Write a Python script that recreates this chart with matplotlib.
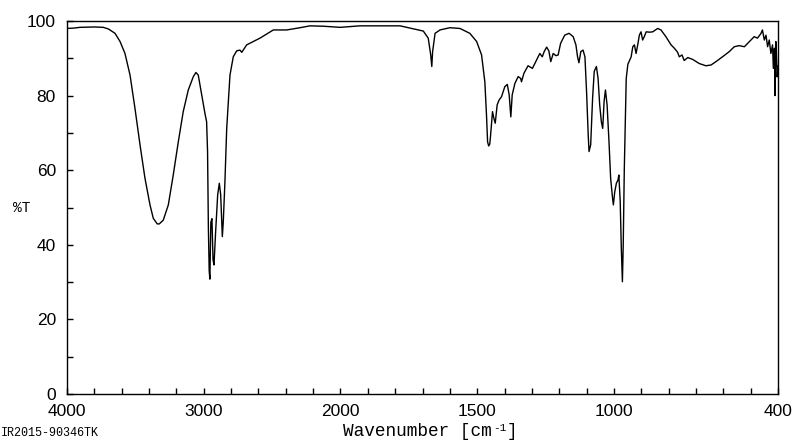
import numpy as np
import matplotlib
matplotlib.use("Agg")
import matplotlib.pyplot as plt
from matplotlib.ticker import FixedLocator, NullFormatter

# ---- data ----
wavenumber = [
    4000, 3950, 3905, 3800, 3735, 3700, 3686, 3649, 3612, 3576, 3539, 3503, 3466, 3430,
    3393, 3369, 3340, 3325, 3296, 3259, 3223, 3186, 3150, 3113, 3076, 3057, 3040, 3015,
    2991, 2979, 2972, 2966, 2960, 2955, 2948, 2940, 2932, 2925, 2913, 2898, 2886, 2876,
    2864, 2857, 2845, 2832, 2808, 2784, 2759, 2735, 2722, 2686, 2589, 2491, 2393, 2296,
    2223, 2126, 2002, 1929, 1782, 1740, 1697, 1679, 1670, 1666, 1663, 1654, 1636, 1600,
    1563, 1527, 1502, 1484, 1472, 1466, 1462, 1458, 1454, 1451, 1444, 1439, 1434, 1427,
    1420, 1411, 1399, 1390, 1383, 1377, 1372, 1362, 1350, 1341, 1338, 1329, 1314, 1298,
    1283, 1271, 1262, 1255, 1246, 1238, 1231, 1222, 1212, 1204, 1195, 1180, 1164, 1149,
    1139, 1133, 1128, 1121, 1113, 1106, 1100, 1094, 1091, 1085, 1078, 1072, 1064, 1058,
    1052, 1046, 1041, 1036, 1031, 1025, 1018, 1012, 1005, 1002, 997, 991, 985, 982,
    977, 973, 969, 966, 962, 958, 955, 949, 937, 931, 925, 919, 913, 907,
    901, 895, 889, 882, 870, 858, 840, 828, 810, 791, 779, 767, 761, 751,
    743, 730, 712, 688, 664, 645, 627, 603, 578, 560, 542, 523, 511, 499,
    487, 475, 462, 457, 450, 444, 438, 432, 426, 420, 417, 413, 411, 408,
    406, 403, 400,
]
transmittance = [
    98.0, 98.1, 98.3, 98.4, 98.3, 97.9, 97.6, 96.7, 94.5, 91.3, 85.5, 76.6, 66.8, 57.9,
    50.7, 47.1, 45.6, 45.6, 46.6, 50.7, 58.7, 67.6, 75.7, 81.5, 85.1, 86.2, 85.5, 80.2,
    75.2, 73.0, 65.0, 44.5, 33.0, 30.8, 46.0, 47.0, 36.0, 34.6, 43.5, 53.4, 56.5, 53.4,
    42.2, 46.2, 56.9, 71.2, 85.5, 90.4, 92.0, 92.2, 91.6, 93.6, 95.4, 97.6, 97.6, 98.2,
    98.7, 98.6, 98.3, 98.7, 98.7, 98.0, 97.3, 95.4, 90.9, 87.8, 91.8, 96.7, 97.6, 98.2,
    98.0, 96.7, 94.5, 90.9, 83.7, 74.8, 67.6, 66.5, 67.0, 69.4, 75.7, 73.9, 72.6, 77.5,
    78.8, 79.7, 82.4, 83.0, 80.2, 74.3, 80.2, 83.3, 85.1, 84.6, 83.7, 86.0, 88.0, 87.3,
    89.5, 91.3, 90.4, 91.8, 93.0, 92.0, 89.1, 91.3, 90.7, 90.9, 94.0, 96.2, 96.7, 95.8,
    93.6, 90.4, 88.8, 91.8, 92.2, 90.4, 81.0, 69.4, 65.0, 66.8, 79.3, 86.5, 87.8, 84.6,
    77.5, 73.0, 71.2, 78.4, 81.5, 77.5, 67.6, 57.8, 52.5, 50.7, 54.2, 56.5, 57.4, 58.7,
    51.6, 39.1, 30.1, 39.9, 60.5, 74.8, 84.6, 88.4, 90.4, 93.1, 93.6, 91.3, 93.6, 96.2,
    97.1, 94.9, 95.8, 97.1, 97.0, 97.1, 98.0, 97.6, 95.8, 93.6, 92.7, 91.6, 90.4, 90.9,
    89.4, 90.2, 89.7, 88.6, 88.0, 88.2, 89.1, 90.4, 91.8, 93.1, 93.4, 93.1, 94.0, 94.9,
    95.8, 95.4, 96.7, 97.6, 94.9, 96.2, 93.1, 94.9, 91.3, 93.6, 87.3, 92.7, 80.0, 94.5,
    91.8, 85.0, 88.0,
]
x_major_ticks = [4000, 3000, 2000, 1500, 1000, 400]
x_major_labels = ["4000", "3000", "2000", "1500", "1000", "400"]
x_minor_ticks = [3800, 3600, 3400, 3200, 2800, 2600, 2400, 2200,
                 1900, 1800, 1700, 1600, 1400, 1300, 1200, 1100,
                 900, 800, 700, 600, 500]
y_major_ticks = [0, 20, 40, 60, 80, 100]
y_minor_ticks = [10, 30, 50, 70, 90]


# IR-style x-axis: scale doubles below 2000 cm-1
def fwd(w):
    w = np.asarray(w, dtype=float)
    return np.where(w >= 2000, w, 2 * w - 2000)


def inv(f):
    f = np.asarray(f, dtype=float)
    return np.where(f >= 2000, f, (f + 2000) / 2)


W, H, DPI = 800, 441, 100
fig = plt.figure(figsize=(W / DPI, H / DPI), dpi=DPI)
L, R, T, B = 67, 778, 21, 394
ax = fig.add_axes([L / W, 1 - B / H, (R - L) / W, (B - T) / H])

ax.plot(wavenumber, transmittance, color="black", lw=1.0)

ax.set_xscale("function", functions=(fwd, inv))
ax.set_xlim(4000, 400)
ax.set_ylim(0, 100)

ax.xaxis.set_major_locator(FixedLocator(x_major_ticks))
ax.set_xticklabels(x_major_labels)
ax.xaxis.set_minor_locator(FixedLocator(x_minor_ticks))
ax.xaxis.set_minor_formatter(NullFormatter())
ax.yaxis.set_major_locator(FixedLocator(y_major_ticks))
ax.yaxis.set_minor_locator(FixedLocator(y_minor_ticks))
ax.yaxis.set_minor_formatter(NullFormatter())

for s in ax.spines.values():
    s.set_linewidth(1.0)
    s.set_color("black")

ax.tick_params(which="both", direction="in", length=4, width=1.0, color="black",
               top=False, right=False)
ax.tick_params(axis="x", which="major", pad=7.5, labelsize=12.5)
ax.tick_params(axis="y", which="major", pad=8, labelsize=12.5)
for lab in ax.get_xticklabels() + ax.get_yticklabels():
    lab.set_fontfamily("Liberation Sans")

mono = "Liberation Mono"
# y-axis label
fig.text(22 / W, 1 - 208 / H, "%T", family=mono, fontsize=10.5,
         ha="center", va="center")

# x-axis label with superscript, built from monospace pieces
fs_main, fs_sup = 12.8, 8.0
x0 = 343
main_txt = "Wavenumber [cm"
char_px = 0.6 * fs_main * DPI / 72
sup_char_px = 0.6 * fs_sup * DPI / 72
y_base = 1 - 432 / H
fig.text(x0 / W, y_base, main_txt, family=mono, fontsize=fs_main,
         ha="left", va="center")
x1 = x0 + len(main_txt) * char_px + 1
fig.text(x1 / W, 1 - 428 / H, "-1", family=mono, fontsize=fs_sup,
         ha="left", va="center")
x2 = x1 + 2 * sup_char_px
fig.text(x2 / W, y_base, "]", family=mono, fontsize=fs_main,
         ha="left", va="center")

# sample ID
fig.text(1 / W, 1 - 433 / H, "IR2015-90346TK", family=mono, fontsize=8.5,
         ha="left", va="center")

fig.savefig("out.png", dpi=DPI)
